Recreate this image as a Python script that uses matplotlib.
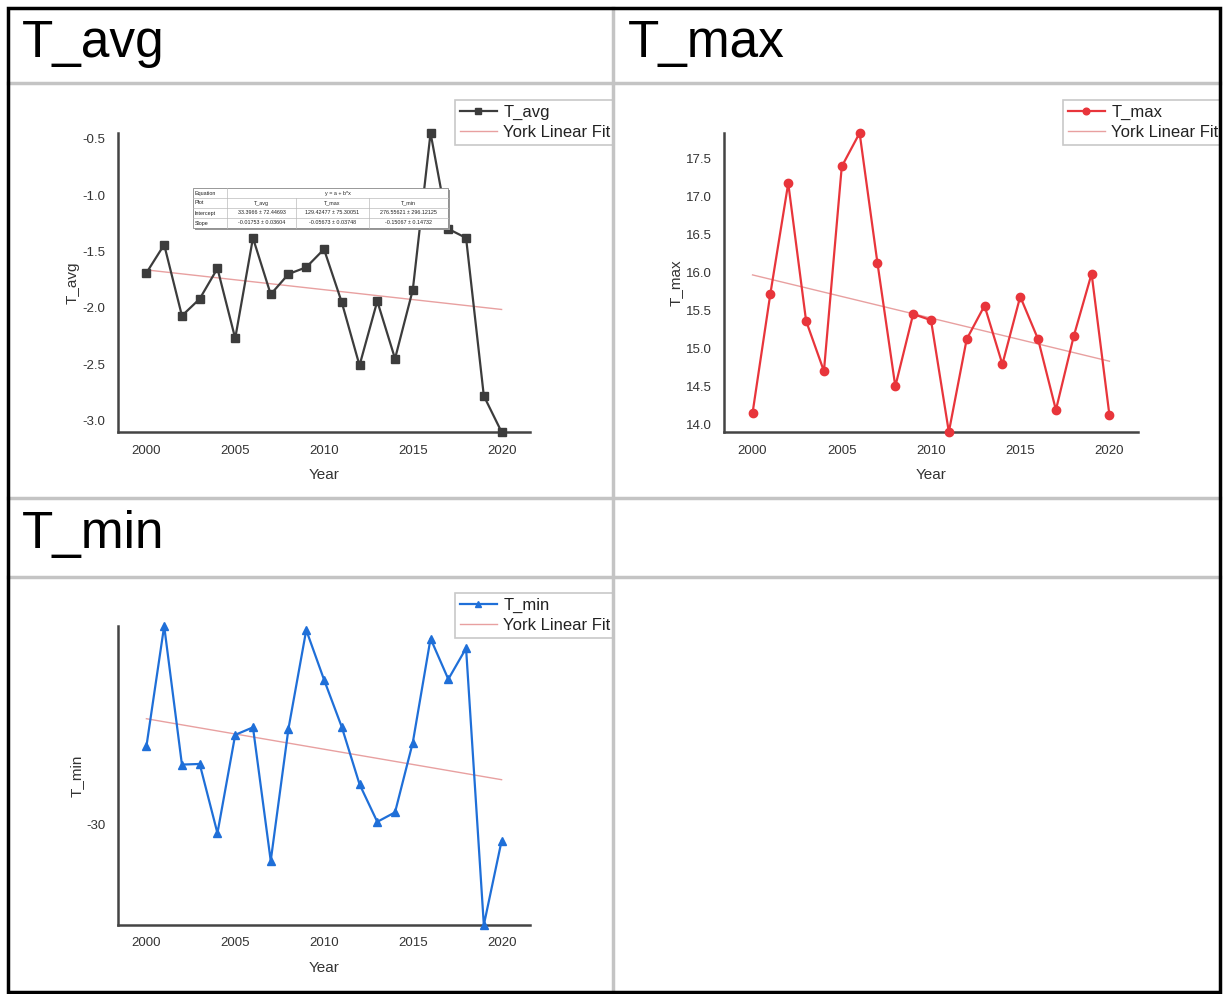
import matplotlib
matplotlib.use("Agg")
import matplotlib.pyplot as plt
from matplotlib.patches import Rectangle
from matplotlib.lines import Line2D
from matplotlib.ticker import MultipleLocator
from matplotlib.transforms import Bbox, TransformedBbox
import numpy as np

years = list(range(2000, 2021))
t_avg = [-1.69, -1.44, -2.07, -1.92, -1.65, -2.27, -1.38, -1.88, -1.70, -1.64, -1.48,
         -1.95, -2.51, -1.94, -2.45, -1.84, -0.45, -1.30, -1.38, -2.78, -3.10]
t_max = [14.15, 15.72, 17.17, 15.36, 14.70, 17.39, 17.83, 16.12, 14.50, 15.45, 15.37,
         13.90, 15.12, 15.56, 14.79, 15.68, 15.12, 14.19, 15.16, 15.98, 14.12]
t_min = [-26.15, -20.20, -27.05, -27.02, -30.44, -25.58, -25.21, -31.81, -25.27, -20.40, -22.85,
         -25.19, -28.02, -29.88, -29.41, -25.96, -20.82, -22.83, -21.30, -34.98, -30.82]

series_names = ["T_avg", "T_max", "T_min"]
intercepts = [33.3966, 129.42477, 276.55621]
intercept_err = [72.44693, 75.30051, 296.12125]
slopes = [-0.01753, -0.05673, -0.15067]
slope_err = [0.03604, 0.03748, 0.14732]
x_ticks = [2000, 2005, 2010, 2015, 2020]

W, H = 1223, 994
fig = plt.figure(figsize=(W / 100, H / 100), dpi=100)
fig.patch.set_facecolor("white")

FONT = ["Liberation Sans", "DejaVu Sans"]
plt.rcParams["font.family"] = FONT
plt.rcParams["axes.unicode_minus"] = False


def fx(x):
    return x / W


def fy(y):
    return 1 - y / H


def rect(l, t, r, b):
    return [fx(l), fy(b), (r - l) / W, (b - t) / H]


panels = [
    ("T_avg", t_avg, "#3c3c3c", "s", 5.5, (118, 133, 530, 432), (455, 100), 0.5, (8, 83, 612, 498)),
    ("T_max", t_max, "#e8353b", "o", 6.0, (724, 133, 1138, 432), (1063, 100), 0.5, (614, 83, 1219, 498)),
    ("T_min", t_min, "#1f6fd8", "^", 6.0, (118, 626, 530, 925), (455, 593), 10, (8, 577, 612, 992)),
]

for i, (name, vals, col, mk, ms, box, legpos, step, cell) in enumerate(panels):
    ax = fig.add_axes(rect(*box))
    ax.set_facecolor("none")
    ax.plot(years, vals, color=col, marker=mk, markersize=ms, linewidth=1.6,
            label=name, clip_on=False, zorder=3)
    xs = np.array([years[0], years[-1]])
    ax.plot(xs, intercepts[i] + slopes[i] * xs, color="#e8a0a0", linewidth=1.0,
            label="York Linear Fit of Sheet1 " + name, zorder=2)
    ax.set_xlim(1998.4, 2021.6)
    ax.set_ylim(min(vals), max(vals))
    ax.set_xticks(x_ticks)
    ax.yaxis.set_major_locator(MultipleLocator(step))
    if step < 1:
        ax.yaxis.set_major_formatter(matplotlib.ticker.FormatStrFormatter("%.1f"))
    for s in ["top", "right"]:
        ax.spines[s].set_visible(False)
    for s in ["left", "bottom"]:
        ax.spines[s].set_color("#444444")
        ax.spines[s].set_linewidth(1.8)
    ax.tick_params(length=0, labelsize=9.5, colors="#333333", pad=9)
    ax.set_xlabel("Year", fontsize=11, color="#333333", labelpad=8)
    ax.set_ylabel(name, fontsize=11, color="#333333", labelpad=2)
    leg = ax.legend(loc="upper left", bbox_to_anchor=(fx(legpos[0]), fy(legpos[1])),
                    bbox_transform=fig.transFigure, fontsize=12, frameon=True,
                    fancybox=False, edgecolor="#bbbbbb", handlelength=2.2,
                    borderaxespad=0, labelspacing=0.3, borderpad=0.3,
                    handletextpad=0.4, markerscale=0.8)
    leg.get_frame().set_linewidth(1.2)
    for t in leg.get_texts():
        t.set_color("#222222")
    clip = TransformedBbox(Bbox.from_extents(fx(cell[0]), fy(cell[3]), fx(cell[2]), fy(cell[1])),
                           fig.transFigure)
    for a in leg.findobj():
        a.set_clip_on(True)
        a.set_clip_box(clip)

# equation table inset
tl, tt, tr, tb = 193, 188, 448, 228
col_x = [193, 227, 296, 369, 448]
row_h = (tb - tt) / 4
fig.add_artist(Rectangle((fx(tl + 2), fy(tb + 2)), (tr - tl) / W, (tb - tt) / H,
                         transform=fig.transFigure, facecolor="#999999",
                         edgecolor="none", zorder=6))
fig.add_artist(Rectangle((fx(tl), fy(tb)), (tr - tl) / W, (tb - tt) / H,
                         transform=fig.transFigure, facecolor="white",
                         edgecolor="#888888", linewidth=0.6, zorder=7))
for k in range(1, 4):
    y = tt + k * row_h
    fig.add_artist(Line2D([fx(tl), fx(tr)], [fy(y), fy(y)], transform=fig.transFigure,
                          color="#bbbbbb", linewidth=0.5, zorder=8))
fig.add_artist(Line2D([fx(col_x[1])] * 2, [fy(tt), fy(tb)], transform=fig.transFigure,
                      color="#bbbbbb", linewidth=0.5, zorder=8))
for cx in col_x[2:4]:
    fig.add_artist(Line2D([fx(cx)] * 2, [fy(tt + row_h), fy(tb)], transform=fig.transFigure,
                          color="#bbbbbb", linewidth=0.5, zorder=8))

rows = [
    ["Equation", "y = a + b*x"],
    ["Plot"] + series_names,
    ["Intercept"] + ["%s \u00b1 %s" % (format(a, ".4f").rstrip("0") if i == 0 else format(a, ".5f"), format(e, ".5f"))
                     for i, (a, e) in enumerate(zip(intercepts, intercept_err))],
    ["Slope"] + ["%.5f \u00b1 %.5f" % (s, e) for s, e in zip(slopes, slope_err)],
]
tfs = 3.9
for r, row in enumerate(rows):
    yc = fy(tt + (r + 0.5) * row_h)
    fig.text(fx(col_x[0] + 2), yc, row[0], fontsize=tfs, va="center", ha="left",
             color="#222222", zorder=9)
    if r == 0:
        fig.text(fx((col_x[1] + col_x[4]) / 2), yc, row[1], fontsize=tfs, va="center",
                 ha="center", color="#222222", zorder=9)
    else:
        for c in range(3):
            fig.text(fx((col_x[c + 1] + col_x[c + 2]) / 2), yc, row[c + 1], fontsize=tfs,
                     va="center", ha="center", color="#222222", zorder=9)

# grid lines of the layout
gc = "#c4c4c4"
for y in [83, 498, 577]:
    fig.add_artist(Line2D([fx(8), fx(1220)], [fy(y), fy(y)], transform=fig.transFigure,
                          color=gc, linewidth=2.5, zorder=10))
fig.add_artist(Line2D([fx(613), fx(613)], [fy(8), fy(992)], transform=fig.transFigure,
                      color=gc, linewidth=2.5, zorder=10))
fig.add_artist(Rectangle((fx(8), fy(992)), (1220 - 8) / W, (992 - 8) / H,
                         transform=fig.transFigure, facecolor="none",
                         edgecolor="black", linewidth=2.5, zorder=11))

# header titles
TFONT = ["Liberation Sans Narrow", "Liberation Sans", "DejaVu Sans"]
for (x, y, s) in [(22, 57, "T_avg"), (628, 57, "T_max"), (22, 548, "T_min")]:
    fig.text(fx(x), fy(y), s, fontsize=37, family=TFONT, va="baseline", ha="left",
             color="black", zorder=12)

fig.savefig("out.png", dpi=100, facecolor="white")
